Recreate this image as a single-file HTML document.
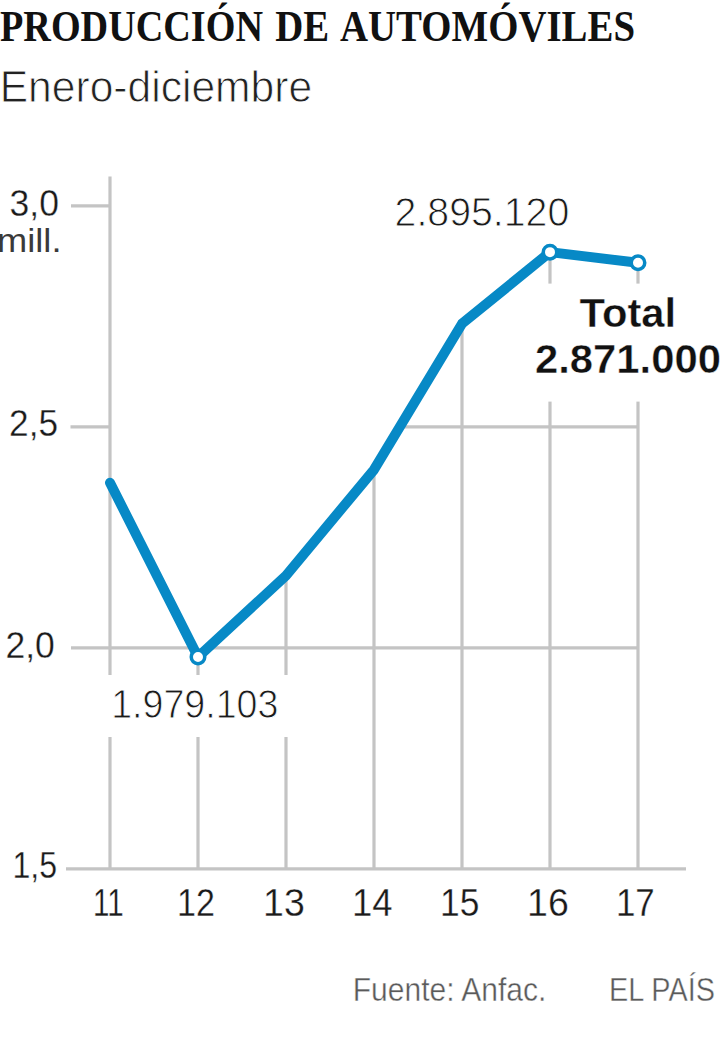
<!DOCTYPE html>
<html><head><meta charset="utf-8"><style>
html,body{margin:0;padding:0;background:#fff;width:720px;height:1042px;overflow:hidden}
svg{display:block}
</style></head><body>
<svg width="720" height="1042" viewBox="0 0 720 1042">
<defs><clipPath id="under"><polygon points="110,482.78858199999996 198,657.036474 286,575.6046039999999 374,469.6837239999999 462,323.72515799999985 550,252.15696000000003 638,262.818 641,262.818 641,880 110,880"/></clipPath></defs>
<g clip-path="url(#under)"><line x1="110" y1="647.8" x2="638" y2="647.8" stroke="#c4c4c4" stroke-width="3.2"/><line x1="110" y1="426.79999999999995" x2="638" y2="426.79999999999995" stroke="#c4c4c4" stroke-width="3.2"/><line x1="198" y1="657.036474" x2="198" y2="869" stroke="#c4c4c4" stroke-width="3.2"/><line x1="286" y1="575.6046039999999" x2="286" y2="869" stroke="#c4c4c4" stroke-width="3.2"/><line x1="374" y1="469.6837239999999" x2="374" y2="869" stroke="#c4c4c4" stroke-width="3.2"/><line x1="462" y1="323.72515799999985" x2="462" y2="869" stroke="#c4c4c4" stroke-width="3.2"/><line x1="550" y1="252.15696000000003" x2="550" y2="869" stroke="#c4c4c4" stroke-width="3.2"/><line x1="638" y1="262.818" x2="638" y2="869" stroke="#c4c4c4" stroke-width="3.2"/></g>
<line x1="110" y1="176.6" x2="110" y2="869" stroke="#c4c4c4" stroke-width="3.2"/>
<line x1="71" y1="205.79999999999995" x2="110" y2="205.79999999999995" stroke="#c4c4c4" stroke-width="3.2"/>
<line x1="70.5" y1="426.79999999999995" x2="110" y2="426.79999999999995" stroke="#c4c4c4" stroke-width="3.2"/>
<line x1="71" y1="647.8" x2="110" y2="647.8" stroke="#c4c4c4" stroke-width="3.2"/>
<line x1="66" y1="868.8" x2="686" y2="868.8" stroke="#c4c4c4" stroke-width="3.2"/>
<rect x="100" y="675" width="196" height="62" fill="#fff"/>
<rect x="530" y="283.6" width="190" height="118" fill="#fff"/>
<path d="M110,482.79 L198,657.04 L286,575.60 L374,469.68 L462,323.73 L550,252.16 L638,262.82" fill="none" stroke="#0789c6" stroke-width="10" stroke-linejoin="round" stroke-linecap="round"/>
<circle cx="198" cy="657.04" r="6.75" fill="#fff" stroke="#0789c6" stroke-width="3.5"/>
<circle cx="550" cy="252.16" r="6.75" fill="#fff" stroke="#0789c6" stroke-width="3.5"/>
<circle cx="638" cy="262.82" r="6.75" fill="#fff" stroke="#0789c6" stroke-width="3.5"/>
<text x="0.00" y="41" font-family="&quot;Liberation Serif&quot;, serif" font-size="43.5" font-weight="bold" fill="#111" textLength="263.01" lengthAdjust="spacingAndGlyphs">PRODUCCIÓN</text>
<text x="275.20" y="41" font-family="&quot;Liberation Serif&quot;, serif" font-size="43.5" font-weight="bold" fill="#111" textLength="53.92" lengthAdjust="spacingAndGlyphs">DE</text>
<text x="340.00" y="41" font-family="&quot;Liberation Serif&quot;, serif" font-size="43.5" font-weight="bold" fill="#111" textLength="295.01" lengthAdjust="spacingAndGlyphs">AUTOMÓVILES</text>
<text x="-0.30" y="102" font-family="&quot;Liberation Sans&quot;, sans-serif" font-size="45" font-weight="normal" fill="#222" textLength="312.41" lengthAdjust="spacingAndGlyphs" stroke="#fff" stroke-width="0.9">Enero-diciembre</text>
<text x="9.60" y="215.7" font-family="&quot;Liberation Sans&quot;, sans-serif" font-size="36" font-weight="normal" fill="#1a1a1a" textLength="49.35" lengthAdjust="spacingAndGlyphs" stroke="#fff" stroke-width="0.3">3,0</text>
<text x="-3.00" y="251.7" font-family="&quot;Liberation Sans&quot;, sans-serif" font-size="34" font-weight="normal" fill="#3a3a3a" textLength="64.48" lengthAdjust="spacingAndGlyphs">mill.</text>
<text x="9.10" y="436.20000000000005" font-family="&quot;Liberation Sans&quot;, sans-serif" font-size="36" font-weight="normal" fill="#1a1a1a" textLength="48.95" lengthAdjust="spacingAndGlyphs" stroke="#fff" stroke-width="0.3">2,5</text>
<text x="5.40" y="657.6" font-family="&quot;Liberation Sans&quot;, sans-serif" font-size="36" font-weight="normal" fill="#1a1a1a" textLength="49.35" lengthAdjust="spacingAndGlyphs" stroke="#fff" stroke-width="0.3">2,0</text>
<text x="12.50" y="878.2" font-family="&quot;Liberation Sans&quot;, sans-serif" font-size="36" font-weight="normal" fill="#1a1a1a" textLength="44.61" lengthAdjust="spacingAndGlyphs" stroke="#fff" stroke-width="0.3">1,5</text>
<text x="93.10" y="916" font-family="&quot;Liberation Sans&quot;, sans-serif" font-size="39" font-weight="normal" fill="#1a1a1a" textLength="30.70" lengthAdjust="spacingAndGlyphs" stroke="#fff" stroke-width="0.3">11</text>
<text x="177.10" y="916" font-family="&quot;Liberation Sans&quot;, sans-serif" font-size="39" font-weight="normal" fill="#1a1a1a" textLength="37.87" lengthAdjust="spacingAndGlyphs" stroke="#fff" stroke-width="0.3">12</text>
<text x="263.10" y="916" font-family="&quot;Liberation Sans&quot;, sans-serif" font-size="39" font-weight="normal" fill="#1a1a1a" textLength="41.72" lengthAdjust="spacingAndGlyphs" stroke="#fff" stroke-width="0.3">13</text>
<text x="352.00" y="916" font-family="&quot;Liberation Sans&quot;, sans-serif" font-size="39" font-weight="normal" fill="#1a1a1a" textLength="40.52" lengthAdjust="spacingAndGlyphs" stroke="#fff" stroke-width="0.3">14</text>
<text x="440.10" y="916" font-family="&quot;Liberation Sans&quot;, sans-serif" font-size="39" font-weight="normal" fill="#1a1a1a" textLength="39.34" lengthAdjust="spacingAndGlyphs" stroke="#fff" stroke-width="0.3">15</text>
<text x="527.10" y="916" font-family="&quot;Liberation Sans&quot;, sans-serif" font-size="39" font-weight="normal" fill="#1a1a1a" textLength="41.72" lengthAdjust="spacingAndGlyphs" stroke="#fff" stroke-width="0.3">16</text>
<text x="615.90" y="916" font-family="&quot;Liberation Sans&quot;, sans-serif" font-size="39" font-weight="normal" fill="#1a1a1a" textLength="38.81" lengthAdjust="spacingAndGlyphs" stroke="#fff" stroke-width="0.3">17</text>
<text x="394.60" y="225.8" font-family="&quot;Liberation Sans&quot;, sans-serif" font-size="40" font-weight="normal" fill="#1a1a1a" textLength="174.62" lengthAdjust="spacingAndGlyphs" stroke="#fff" stroke-width="0.9">2.895.120</text>
<text x="111.20" y="717.8" font-family="&quot;Liberation Sans&quot;, sans-serif" font-size="40" font-weight="normal" fill="#1a1a1a" textLength="167.16" lengthAdjust="spacingAndGlyphs" stroke="#fff" stroke-width="0.9">1.979.103</text>
<text x="579.50" y="326.7" font-family="&quot;Liberation Sans&quot;, sans-serif" font-size="40" font-weight="bold" fill="#111" textLength="96.67" lengthAdjust="spacingAndGlyphs" stroke="#fff" stroke-width="0.4">Total</text>
<text x="535.00" y="372.5" font-family="&quot;Liberation Sans&quot;, sans-serif" font-size="40" font-weight="bold" fill="#111" textLength="185.88" lengthAdjust="spacingAndGlyphs" stroke="#fff" stroke-width="0.4">2.871.000</text>
<text x="352.70" y="1001.2" font-family="&quot;Liberation Sans&quot;, sans-serif" font-size="32.5" font-weight="normal" fill="#5a5a5a" textLength="193.70" lengthAdjust="spacingAndGlyphs" stroke="#fff" stroke-width="0.4">Fuente: Anfac.</text>
<text x="609.10" y="1000.7" font-family="&quot;Liberation Sans&quot;, sans-serif" font-size="32.5" font-weight="normal" fill="#5a5a5a" textLength="105.87" lengthAdjust="spacingAndGlyphs" stroke="#fff" stroke-width="0.4">EL PAÍS</text>
</svg>
</body></html>
